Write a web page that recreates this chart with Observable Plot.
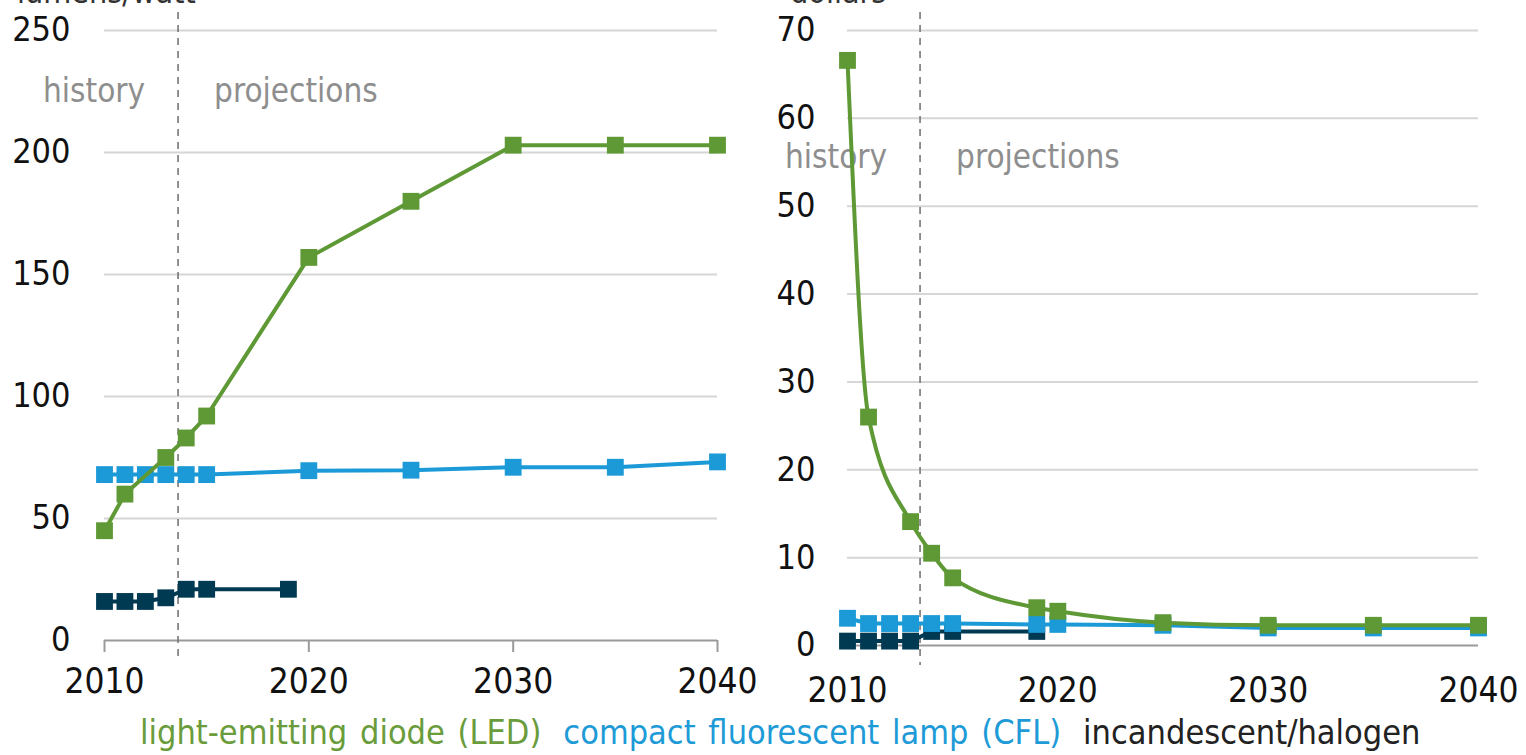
<!DOCTYPE html>
<html>
<head>
<meta charset="utf-8">
<script src="https://cdn.jsdelivr.net/npm/d3@7"></script>
<script src="https://cdn.jsdelivr.net/npm/@observablehq/plot@0.6"></script>
<style>
  html, body { margin: 0; padding: 0; background: #fff; }
  body { width: 1526px; height: 755px; overflow: hidden; position: relative;
         font-family: "Liberation Sans Narrow", "DejaVu Sans Condensed", "Liberation Sans", sans-serif; }
  #left { position: absolute; left: 0; top: 0; }
  #right { position: absolute; left: 760px; top: 0; }
  .unit { position: absolute; top: -24px; font-size: 32px; line-height: 1; color: #333; }
  #legend { position: absolute; top: 712px; left: 140px; font-size: 34px; word-spacing: 3px; white-space: nowrap; }
  #legend span { margin-right: 22px; }
</style>
</head>
<body>
<div class="unit" style="left:17px">lumens/watt</div>
<div class="unit" style="left:790px">dollars</div>
<div id="left"></div>
<div id="right"></div>
<div id="legend"></div>
<script>
// ---- data ----
const seriesNames = ["light-emitting diode (LED)", "compact fluorescent lamp (CFL)", "incandescent/halogen"];
const seriesColors = ["#5f9936", "#1b9ad7", "#003a52"];
const legendColors = ["#6a9c3c", "#1e9bd7", "#222222"];

// left: efficacy, lumens/watt
const ledYearsL = [2010, 2011, 2013, 2014, 2015, 2020, 2025, 2030, 2035, 2040];
const ledEfficacy = [45, 60, 75, 83, 92, 157, 180, 203, 203, 203];
const cflYearsL = [2010, 2011, 2012, 2013, 2014, 2015, 2020, 2025, 2030, 2035, 2040];
const cflEfficacy = [68, 68, 68, 68, 68, 68, 69.6, 69.8, 71, 71, 73.2];
const incYearsL = [2010, 2011, 2012, 2013, 2014, 2015, 2019];
const incEfficacy = [16, 16, 16, 17.5, 21, 21, 21];

// right: price, dollars
const ledYearsR = [2010, 2011, 2013, 2014, 2015, 2019, 2020, 2025, 2030, 2035, 2040];
const ledPrice = [66.6, 26, 14.1, 10.5, 7.7, 4.3, 3.9, 2.6, 2.3, 2.3, 2.3];
const cflYearsR = [2010, 2011, 2012, 2013, 2014, 2015, 2019, 2020, 2025, 2030, 2035, 2040];
const cflPrice = [3.1, 2.5, 2.5, 2.5, 2.5, 2.5, 2.4, 2.4, 2.3, 2.0, 2.0, 2.0];
const incYearsR = [2010, 2011, 2012, 2013, 2014, 2015, 2019];
const incPrice = [0.5, 0.5, 0.5, 0.5, 1.6, 1.6, 1.6];

const dividerL = 2013.6;
const dividerR = 2013.45;
const xTicks = [2010, 2020, 2030, 2040];
const leftYTicks = [0, 50, 100, 150, 200, 250];
const rightYTicks = [0, 10, 20, 30, 40, 50, 60, 70];
const periodLabels = ["history", "projections"];
const unitLabelY = { left: 225, right: 55.5 };

const rows = (years, vals) => years.map((y, i) => ({ year: y, value: vals[i] }));
const fontFamily = '"Liberation Sans Narrow", "DejaVu Sans Condensed", "Liberation Sans", sans-serif';

function seriesMarks(data, color, curve) {
  return [
    Plot.line(data, { x: "year", y: "value", stroke: color, strokeWidth: 4, curve }),
    Plot.dot(data, { x: "year", y: "value", symbol: "square", r: 9.5, fill: color, stroke: "none" })
  ];
}

function build(opts) {
  const { width, marginLeft, marginRight, bottomY, yDomain, yTicks, data, labelY, xTickSize, xTickPadding, yTickPadding, ledCurve, divider } = opts;
  const [led, cfl, inc] = data;
  return Plot.plot({
    width, height: 705,
    marginLeft, marginRight, marginTop: 30, marginBottom: 705 - bottomY,
    x: { domain: [2010, 2040], label: null },
    y: { domain: yDomain, label: null },
    style: { fontFamily, fontSize: "34px", color: "#111", background: "transparent", overflow: "visible" },
    marks: [
      Plot.gridY(yTicks.slice(1), { stroke: "#d6d6d6", strokeOpacity: 1, strokeWidth: 2 }),
      Plot.ruleY([0], { stroke: "#9a9a9a", strokeWidth: 2 }),
      Plot.axisY(yTicks, { tickSize: 0, tickPadding: yTickPadding, fontSize: 34, label: null, tickFormat: d => String(d) }),
      Plot.axisX(xTicks, { tickSize: xTickSize, tickPadding: xTickPadding, stroke: "#9a9a9a", strokeWidth: 2, fontSize: 35, label: null, tickFormat: d => String(d) }),
      Plot.ruleX([divider], { stroke: "#777", strokeWidth: 1.6, strokeDasharray: "7,6", insetTop: -18, insetBottom: -20 }),
      Plot.text([periodLabels[0]], { x: divider, y: labelY, text: d => d, textAnchor: "end", dx: -33, fill: "#8e8e8e", fontSize: 33 }),
      Plot.text([periodLabels[1]], { x: divider, y: labelY, text: d => d, textAnchor: "start", dx: 36, fill: "#8e8e8e", fontSize: 33 }),
      ...seriesMarks(inc, seriesColors[2], "linear"),
      ...seriesMarks(cfl, seriesColors[1], "linear"),
      ...seriesMarks(led, seriesColors[0], ledCurve)
    ]
  });
}

document.getElementById("left").append(build({
  width: 760, marginLeft: 104, marginRight: 43, bottomY: 640,
  yDomain: [0, 250], yTicks: leftYTicks,
  data: [rows(ledYearsL, ledEfficacy), rows(cflYearsL, cflEfficacy), rows(incYearsL, incEfficacy)],
  labelY: unitLabelY.left, xTickSize: 12, xTickPadding: 16, yTickPadding: 34, ledCurve: "linear", divider: dividerL
}));

document.getElementById("right").append(build({
  width: 766, marginLeft: 87, marginRight: 48, bottomY: 645,
  yDomain: [0, 70], yTicks: rightYTicks,
  data: [rows(ledYearsR, ledPrice), rows(cflYearsR, cflPrice), rows(incYearsR, incPrice)],
  labelY: unitLabelY.right, xTickSize: 0, xTickPadding: 32, yTickPadding: 32, ledCurve: "monotone-x", divider: dividerR
}));

const legend = document.getElementById("legend");
seriesNames.forEach((name, i) => {
  const s = document.createElement("span");
  s.textContent = name;
  s.style.color = legendColors[i];
  legend.append(s);
});
</script>
</body>
</html>
